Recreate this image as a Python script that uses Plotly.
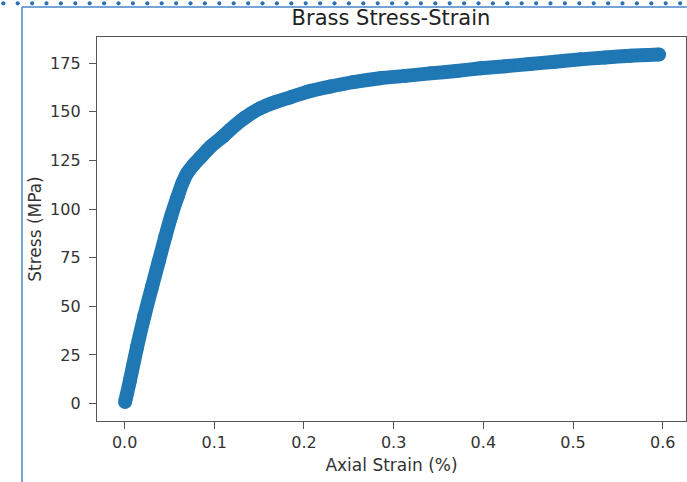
import plotly.graph_objects as go

# Values
strain = [0.0005, 0.006, 0.0138, 0.022, 0.0305, 0.038, 0.0454, 0.052, 0.059, 0.0645,
          0.0696, 0.077, 0.0844, 0.0956, 0.110, 0.118, 0.134, 0.151, 0.168, 0.185,
          0.205, 0.229, 0.255, 0.285, 0.313, 0.341, 0.370, 0.397, 0.425, 0.452,
          0.480, 0.508, 0.536, 0.564, 0.596]
stress = [0.8, 12.0, 29.0, 45.0, 60.0, 73.0, 85.8, 96.5, 106.3, 113.5,
          118.4, 122.8, 126.5, 132.0, 137.5, 141.0, 147.0, 151.8, 155.0, 157.5,
          160.5, 163.0, 165.3, 167.3, 168.5, 169.8, 171.0, 172.4, 173.5, 174.6,
          175.8, 177.0, 178.0, 178.9, 179.5]
x_ticks = [0.0, 0.1, 0.2, 0.3, 0.4, 0.5, 0.6]
y_ticks = [0, 25, 50, 75, 100, 125, 150, 175]

W, H = 687, 482
L, R, T, B = 97, 1, 37, 61
pw, ph = W - L - R, H - T - B

def px_x(px):
    return (px - L) / pw

def px_y(py):
    return (H - B - py) / ph

blue = "#1f77b4"
axis_col = "#555555"
txt_col = "#333333"
font = "DejaVu Sans"

fig = go.Figure()
fig.add_trace(go.Scatter(
    x=strain, y=stress, mode="lines+markers",
    line=dict(color=blue, width=14, shape="spline", smoothing=0.6),
    marker=dict(color=blue, size=14, line=dict(width=0)),
    showlegend=False, hoverinfo="skip"))

shapes = []
# notebook frame decorations
shapes.append(dict(type="line", xref="paper", yref="paper",
                   x0=px_x(22), x1=px_x(22), y0=px_y(7), y1=px_y(H + 2),
                   line=dict(color="#4a86c8", width=1.5)))
shapes.append(dict(type="line", xref="paper", yref="paper",
                   x0=px_x(22), x1=px_x(W + 2), y0=px_y(7), y1=px_y(7),
                   line=dict(color="#4a86c8", width=1.5)))
for i in range(48):
    cx = 3.3 + i * 14.4
    shapes.append(dict(type="circle", xref="paper", yref="paper",
                       xsizemode="pixel", ysizemode="pixel",
                       xanchor=px_x(cx), yanchor=px_y(3.3),
                       x0=-2.1, x1=2.1, y0=-2.1, y1=2.1,
                       fillcolor="#2a72b5", line=dict(width=0)))

fig.update_layout(
    width=W, height=H,
    margin=dict(l=L, r=R, t=T, b=B, autoexpand=False),
    paper_bgcolor="white", plot_bgcolor="white",
    font=dict(family=font, color=txt_col, size=16),
    title=dict(text="Brass Stress-Strain", x=391 / W, xanchor="center",
               y=1 - 18 / H, yanchor="middle", font=dict(size=21, color="#222222")),
    shapes=shapes,
    xaxis=dict(range=[-0.0308, 0.626], tickvals=x_ticks, tickformat=".1f",
               showline=True, mirror=True, linecolor=axis_col, linewidth=1.3,
               ticks="outside", ticklen=7, tickcolor=axis_col, tickwidth=1.3,
               showgrid=False, zeroline=False,
               tickfont=dict(size=16, color=txt_col),
               title=dict(text="Axial Strain (%)", font=dict(size=17, color=txt_col), standoff=7)),
    yaxis=dict(range=[-8.95, 188.5], tickvals=y_ticks,
               showline=True, mirror=True, linecolor=axis_col, linewidth=1.3,
               ticks="outside", ticklen=7, tickcolor=axis_col, tickwidth=1.3,
               ticklabelstandoff=5,
               showgrid=False, zeroline=False,
               tickfont=dict(size=16, color=txt_col),
               title=dict(text="Stress (MPa)", font=dict(size=17, color=txt_col), standoff=4)),
)

fig.write_html("out.html")
